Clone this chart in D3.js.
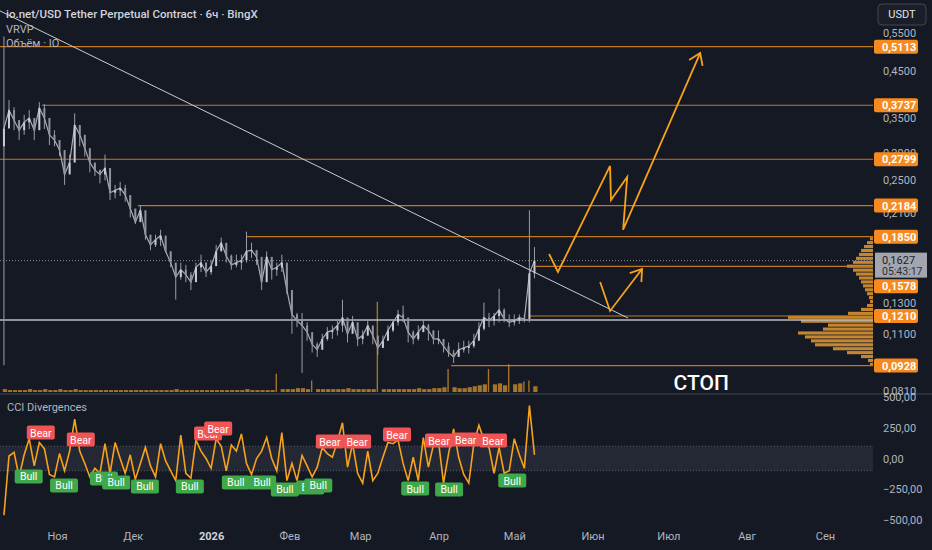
<!DOCTYPE html>
<html>
<head>
<meta charset="utf-8">
<script src="https://cdn.jsdelivr.net/npm/d3@7"></script>
<style>
  body { margin: 0; background: #151924; }
  svg { display: block; font-family: Roboto, "Noto Sans", sans-serif; }
</style>
</head>
<body>
<div id="chart"></div>
<script>
// ---- data (2-day bars, IO/USDT) ----
var startDate = "2025-10-11";
var firstOpen = 0.30;
var highs = [0.54,0.384,0.370,0.345,0.355,0.364,0.341,0.380,0.376,0.336,
  0.327,0.310,0.272,0.287,0.358,0.336,0.310,0.287,0.274,0.265,
  0.287,0.244,0.244,0.248,0.244,0.231,0.211,0.219,0.197,0.185,
  0.187,0.192,0.182,0.171,0.159,0.161,0.159,0.153,0.161,0.168,
  0.161,0.163,0.177,0.184,0.174,0.168,0.168,0.168,0.190,0.179,
  0.172,0.153,0.171,0.163,0.161,0.168,0.149,0.129,0.123,0.123,
  0.117,0.107,0.105,0.110,0.114,0.115,0.118,0.132,0.115,0.121,
  0.113,0.112,0.118,0.113,0.106,0.109,0.115,0.119,0.125,0.128,
  0.115,0.112,0.115,0.119,0.116,0.112,0.112,0.107,0.105,0.101,
  0.105,0.106,0.106,0.110,0.117,0.130,0.123,0.123,0.140,0.126,
  0.122,0.122,0.122,0.122,0.213,0.175];
var lows = [0.093,0.336,0.327,0.310,0.319,0.329,0.310,0.336,0.329,0.302,
  0.300,0.285,0.244,0.261,0.317,0.300,0.284,0.261,0.256,0.246,
  0.250,0.225,0.227,0.230,0.223,0.205,0.198,0.204,0.182,0.172,
  0.175,0.176,0.170,0.157,0.132,0.147,0.145,0.139,0.149,0.153,
  0.149,0.151,0.161,0.172,0.161,0.155,0.157,0.155,0.161,0.165,
  0.159,0.139,0.157,0.147,0.150,0.153,0.136,0.110,0.114,0.0892,
  0.106,0.0995,0.0972,0.103,0.106,0.107,0.109,0.111,0.105,0.111,
  0.103,0.104,0.109,0.104,0.0983,0.102,0.106,0.111,0.115,0.117,
  0.105,0.104,0.106,0.111,0.106,0.104,0.104,0.0995,0.0972,0.0941,
  0.0983,0.0995,0.0990,0.102,0.107,0.112,0.114,0.115,0.117,0.117,
  0.114,0.115,0.116,0.117,0.117,0.148];
var closes = [0.330,0.364,0.345,0.327,0.341,0.349,0.327,0.368,0.349,0.319,
  0.310,0.294,0.258,0.275,0.336,0.319,0.297,0.275,0.264,0.258,
  0.267,0.234,0.237,0.240,0.231,0.215,0.200,0.213,0.187,0.177,
  0.182,0.186,0.171,0.161,0.149,0.155,0.151,0.145,0.157,0.161,
  0.153,0.158,0.171,0.179,0.167,0.159,0.161,0.163,0.171,0.172,
  0.166,0.145,0.166,0.155,0.157,0.161,0.139,0.122,0.118,0.115,
  0.111,0.104,0.101,0.107,0.111,0.112,0.115,0.120,0.110,0.117,
  0.107,0.109,0.115,0.109,0.102,0.106,0.112,0.117,0.122,0.120,
  0.111,0.107,0.111,0.115,0.112,0.107,0.107,0.103,0.0995,0.0972,
  0.101,0.102,0.103,0.106,0.113,0.120,0.118,0.121,0.125,0.119,
  0.117,0.118,0.120,0.119,0.152,0.1627];
var volumes = [3,2,2,2,2,3,2,2,3,2, 2,3,2,2,3,2,2,2,2,2, 2,2,2,2,2,2,2,2,2,2,
  2,2,2,2,3,2,2,2,2,2, 2,2,2,2,2,2,2,2,3,2, 2,2,2,2,19,3,3,3,4,4,
  3,12,3,3,3,3,3,3,4,3, 3,3,3,3,94,3,3,3,3,3, 3,3,4,3,3,4,4,5,24,5,
  4,4,5,6,7,8,24,8,9,7, 29,8,9,11,12,6];
var cci = [-460,20,50,-150,30,160,-60,130,80,-130,
  -150,40,-100,60,320,60,-40,-150,-80,-120,
  120,-120,130,0,-120,30,-170,-40,90,-60,
  -150,120,-20,-100,-180,190,-120,-160,150,60,
  0,-80,160,100,-100,110,60,200,-40,-130,
  0,60,170,0,-100,210,-180,-40,-180,25,
  -60,-150,-70,90,40,10,140,290,-70,120,
  -120,-200,60,-180,-120,10,130,120,150,-40,
  -180,10,-180,170,-70,110,140,-200,40,240,
  10,-130,-200,120,270,150,90,-120,90,-120,
  -100,160,30,-80,430,30];

// divergence labels: bar position and CCI value
var bearPos = [7.3,15.2,40.4,42.4,64.5,69.9,77.8,86.1,91.4,96.8];
var bearVal = [211,154,203,243,138,138,195,146,154,146];
var bullPos = [4.9,11.9,19.8,22.2,27.9,36.8,45.9,51.1,55.6,60.6,62.2,81.4,88.1,100.6];
var bullVal = [-146,-219,-162,-195,-227,-227,-195,-195,-252,-235,-219,-244,-252,-179];

// horizontal levels and where each one starts
var levels = [0.5113,0.3737,0.2799,0.2184,0.1850,0.1578,0.1210,0.0928];
var levelStart = ["2025-10-09","2025-10-26","2025-10-09","2025-12-03","2026-01-15","2026-05-09T12:00","2026-05-07","2026-04-06"];
var supportLevel = 0.1185;
var lastPrice = 0.1627;

// volume profile rows (top 0.1845 -> bottom 0.0922)
var vrvpTop = 0.1845, vrvpBottom = 0.0922;
var vrvpVol = [3,6,9,12,14,17,20,26,20,17,14,12,10,8,6,4,3,6,12,25,85,72,45,50,75,68,62,58,40,26,12,5,3];

// drawings
var trendDates = ["2025-10-09T10:00","2026-06-15T00:00"];
var trendPrices = [0.619,0.1197];
var bigArrowDates = ["2026-05-14T19:00","2026-05-18T07:00","2026-06-07T22:00","2026-06-08T07:00","2026-06-14T17:00","2026-06-13T02:00","2026-07-13T14:00"];
var bigArrowPrices = [0.1686,0.1531,0.270,0.225,0.2545,0.192,0.494];
var smallArrowDates = ["2026-06-04T00:00","2026-06-07T22:00","2026-06-20T14:00"];
var smallArrowPrices = [0.1451,0.1243,0.1556];

// axes
var priceTicks = [0.55,0.45,0.35,0.29,0.25,0.21,0.13,0.11,0.081];
var cciTicks = [500,250,0,-250,-500];
var monthTicks = ["2025-11-01","2025-12-01","2026-01-01","2026-02-01","2026-03-01","2026-04-01","2026-05-01","2026-06-01","2026-07-01","2026-08-01","2026-09-01"];
var monthLabels = ["Ноя","Дек","2026","Фев","Мар","Апр","Май","Июн","Июл","Авг","Сен"];

function init() {
  var w = 932, h = 550;
  var paneR = 873;
  var priceBottom = 393, cciTop = 395, cciBottom = 523;
  var orange = "#f7a21b", levelCol = "#c27a22", labelCol = "#f68a1e";
  var parse = d3.isoParse;

  var x = d3.scaleTime().domain([parse("2025-11-01"), parse("2026-09-01")]).range([57, 825]);
  var y = d3.scaleLog().domain([0.081, 0.55]).range([391, 33]);
  var yc = d3.scaleLinear().domain([-500, 500]).range([520, 397]);
  var yv = d3.scaleLinear().domain([0, 100]).range([392, 296]);
  var vw = d3.scaleLinear().domain([0, d3.max(vrvpVol)]).range([0, 85]);

  var start = parse(startDate);
  function barDate(i) { return d3.timeHour.offset(start, Math.round(i * 48)); }
  var bars = closes.map(function(c, i) {
    return { d: barDate(i), o: i ? closes[i - 1] : firstOpen, h: highs[i], l: lows[i], c: c, v: volumes[i], cci: cci[i] };
  });

  var svg = d3.select("#chart").append("svg").attr("width", w).attr("height", h);
  svg.append("rect").attr("width", w).attr("height", h).attr("fill", "#151924");

  var defs = svg.append("defs");
  defs.append("clipPath").attr("id", "cp").append("rect").attr("width", paneR).attr("height", priceBottom);
  defs.append("clipPath").attr("id", "cc").append("rect").attr("y", cciTop).attr("width", paneR).attr("height", cciBottom - cciTop);

  var pane = svg.append("g").attr("clip-path", "url(#cp)");

  // volume bars (thin strip with spikes)
  pane.selectAll(".vol").data(bars).enter().append("rect")
    .attr("x", function(d) { return x(d.d) - 1.2; })
    .attr("y", function(d) { return yv(d.v); })
    .attr("width", function(d) { return d.v > 10 ? 1.4 : 4.2; })
    .attr("height", function(d) { return yv(0) - yv(d.v); })
    .attr("fill", "#c98a2a").attr("opacity", 0.8);

  // volume profile on the right edge
  var rowStep = (Math.log(vrvpBottom) - Math.log(vrvpTop)) / vrvpVol.length;
  function rowY(i) { return y(Math.exp(Math.log(vrvpTop) + rowStep * i)); }
  pane.selectAll(".vp").data(vrvpVol).enter().append("rect")
    .attr("x", function(d) { return paneR - vw(d); })
    .attr("y", function(d, i) { return rowY(i); })
    .attr("width", function(d) { return vw(d); })
    .attr("height", function(d, i) { return rowY(i + 1) - rowY(i) - 0.8; })
    .attr("fill", "#e39a32").attr("opacity", 0.85);

  // levels
  levels.forEach(function(p, i) {
    pane.append("line")
      .attr("x1", x(parse(levelStart[i]))).attr("x2", paneR)
      .attr("y1", y(p)).attr("y2", y(p))
      .attr("stroke", levelCol).attr("stroke-width", 1.2);
  });
  pane.append("line").attr("x1", 0).attr("x2", paneR)
    .attr("y1", y(supportLevel)).attr("y2", y(supportLevel))
    .attr("stroke", "#b8bbc3").attr("stroke-width", 1.5);
  pane.append("line").attr("x1", 0).attr("x2", paneR)
    .attr("y1", y(lastPrice)).attr("y2", y(lastPrice))
    .attr("stroke", "#8a8e99").attr("stroke-dasharray", "1,2");

  // candles: wicks, a close trace, thin bodies
  pane.selectAll(".wick").data(bars).enter().append("line")
    .attr("x1", function(d) { return x(d.d); }).attr("x2", function(d) { return x(d.d); })
    .attr("y1", function(d) { return y(d.h); }).attr("y2", function(d) { return y(d.l); })
    .attr("stroke", "#9a9da7").attr("stroke-width", 1);
  pane.append("path").datum(bars)
    .attr("d", d3.line().x(function(d) { return x(d.d); }).y(function(d) { return y(d.c); }))
    .attr("fill", "none").attr("stroke", "#a9acb5").attr("stroke-width", 1.2);
  pane.selectAll(".body").data(bars).enter().append("rect")
    .attr("x", function(d) { return x(d.d) - 1; })
    .attr("y", function(d) { return y(Math.max(d.o, d.c)); })
    .attr("width", 2)
    .attr("height", function(d) { return Math.max(1, Math.abs(y(d.o) - y(d.c))); })
    .attr("fill", function(d) { return d.c >= d.o ? "#c8cbd3" : "#8f939e"; });

  // trend line
  pane.append("line")
    .attr("x1", x(parse(trendDates[0]))).attr("y1", y(trendPrices[0]))
    .attr("x2", x(parse(trendDates[1]))).attr("y2", y(trendPrices[1]))
    .attr("stroke", "#c9ccd3").attr("stroke-width", 1);

  // hand drawn arrows
  function arrow(dates, prices) {
    var pts = dates.map(function(d, i) { return [x(parse(d)), y(prices[i])]; });
    pane.append("path").attr("d", d3.line()(pts))
      .attr("fill", "none").attr("stroke", orange).attr("stroke-width", 1.8).attr("stroke-linejoin", "miter");
    var a = pts[pts.length - 2], b = pts[pts.length - 1];
    var ang = Math.atan2(a[1] - b[1], a[0] - b[0]);
    var head = [-0.6, 0.6].map(function(s) {
      return [b[0] + 13 * Math.cos(ang + s), b[1] + 13 * Math.sin(ang + s)];
    });
    pane.append("path").attr("d", d3.line()([head[0], b, head[1]]))
      .attr("fill", "none").attr("stroke", orange).attr("stroke-width", 1.8);
  }
  arrow(bigArrowDates, bigArrowPrices);
  arrow(smallArrowDates, smallArrowPrices);

  pane.append("text").text("СТОП")
    .attr("x", x(parse("2026-07-14"))).attr("y", y(0.0815))
    .attr("text-anchor", "middle").attr("fill", "#ffffff")
    .attr("font-size", 21).attr("font-weight", 500);

  // pane separator
  svg.append("rect").attr("y", priceBottom).attr("width", w).attr("height", 2).attr("fill", "#2a2e39");

  // ---- CCI pane ----
  var cp = svg.append("g").attr("clip-path", "url(#cc)");
  cp.append("rect").attr("x", 0).attr("width", paneR + 2)
    .attr("y", yc(100)).attr("height", yc(-100) - yc(100))
    .attr("fill", "#787b86").attr("opacity", 0.16);
  [100, -100].forEach(function(v) {
    cp.append("line").attr("x1", 0).attr("x2", paneR + 2).attr("y1", yc(v)).attr("y2", yc(v))
      .attr("stroke", "#787b86").attr("stroke-dasharray", "1,2").attr("opacity", 0.6);
  });
  cp.append("path").datum(bars)
    .attr("d", d3.line().x(function(d) { return x(d.d); }).y(function(d) { return yc(d.cci); }))
    .attr("fill", "none").attr("stroke", orange).attr("stroke-width", 1.6);

  function tag(pos, vals, txt, col) {
    var g = cp.selectAll("." + txt).data(pos).enter().append("g")
      .attr("transform", function(d, i) { return "translate(" + x(barDate(d)) + "," + yc(vals[i]) + ")"; });
    g.append("rect").attr("x", -14).attr("y", -7).attr("width", 28).attr("height", 14).attr("rx", 2)
      .attr("fill", col);
    g.append("text").text(txt).attr("y", 4).attr("text-anchor", "middle")
      .attr("fill", "#ffffff").attr("font-size", 10.5);
  }
  tag(bearPos, bearVal, "Bear", "#f05454");
  tag(bullPos, bullVal, "Bull", "#3fa84a");

  svg.append("text").text("CCI Divergences").attr("x", 7).attr("y", 411)
    .attr("fill", "#b2b5be").attr("font-size", 11);

  // ---- axes ----
  var axisFont = 11, axisCol = "#b2b5be";
  var fmtP = function(v) { return d3.format(".4f")(v).replace(".", ","); };
  var yAxis = svg.append("g").attr("transform", "translate(" + paneR + ",0)")
    .call(d3.axisRight(y).tickValues(priceTicks).tickSize(0).tickPadding(10).tickFormat(fmtP));
  var cAxis = svg.append("g").attr("transform", "translate(" + paneR + ",0)")
    .call(d3.axisRight(yc).tickValues(cciTicks).tickSize(0).tickPadding(10)
      .tickFormat(function(v) { return d3.format(".2f")(v).replace(".", ",").replace("-", "−"); }));
  var xAxis = svg.append("g").attr("transform", "translate(0," + 530 + ")")
    .call(d3.axisBottom(x).tickValues(monthTicks.map(parse)).tickSize(0).tickPadding(0)
      .tickFormat(function(d, i) { return monthLabels[i]; }));
  [yAxis, cAxis, xAxis].forEach(function(a) {
    a.select(".domain").remove();
    a.selectAll("text").attr("fill", axisCol).attr("font-size", axisFont).attr("font-family", "Roboto, 'Noto Sans', sans-serif");
  });
  xAxis.selectAll("text").attr("dy", "0.9em")
    .attr("font-weight", function(d, i) { return monthLabels[i] === "2026" ? 700 : 400; })
    .attr("fill", function(d, i) { return monthLabels[i] === "2026" ? "#d1d4dc" : axisCol; });

  // level price tags (0.1578 pushed below the last-price tag, as on the chart)
  levels.forEach(function(p) {
    var ty = y(p);
    if (p === 0.1578) ty += 20;
    var g = svg.append("g").attr("transform", "translate(" + (paneR + 1) + "," + ty + ")");
    g.append("rect").attr("y", -7).attr("width", 44).attr("height", 14).attr("rx", 2).attr("fill", labelCol);
    g.append("text").text(fmtP(p)).attr("x", 8).attr("y", 4).attr("fill", "#ffffff")
      .attr("font-size", 11).attr("font-weight", 700);
  });
  var lp = svg.append("g").attr("transform", "translate(" + (paneR + 2) + "," + y(lastPrice) + ")");
  lp.append("rect").attr("y", -8).attr("width", 52).attr("height", 25).attr("fill", "#a3a6af");
  lp.append("text").text(fmtP(lastPrice)).attr("x", 7).attr("y", 3).attr("fill", "#1c202b").attr("font-size", 11);
  lp.append("text").text("05:43:17").attr("x", 7).attr("y", 14).attr("fill", "#2a2e39").attr("font-size", 10.5);

  // USDT box
  svg.append("rect").attr("x", 878).attr("y", 4).attr("width", 48).attr("height", 21).attr("rx", 4)
    .attr("fill", "#1a1e29").attr("stroke", "#434651");
  svg.append("text").text("USDT").attr("x", 902).attr("y", 18).attr("text-anchor", "middle")
    .attr("fill", "#e0e3eb").attr("font-size", 11);

  // legend
  svg.append("text").text("io.net/USD Tether Perpetual Contract · 6ч · BingX")
    .attr("x", 6).attr("y", 18).attr("fill", "#d1d4dc").attr("font-size", 11.5).attr("font-weight", 500);
  svg.append("text").text("VRVP").attr("x", 6).attr("y", 33).attr("fill", "#b2b5be").attr("font-size", 11);
  svg.append("text").text("Объём · IO").attr("x", 6).attr("y", 47).attr("fill", "#b2b5be").attr("font-size", 11);
}
window.onload = init;
</script>
</body>
</html>
